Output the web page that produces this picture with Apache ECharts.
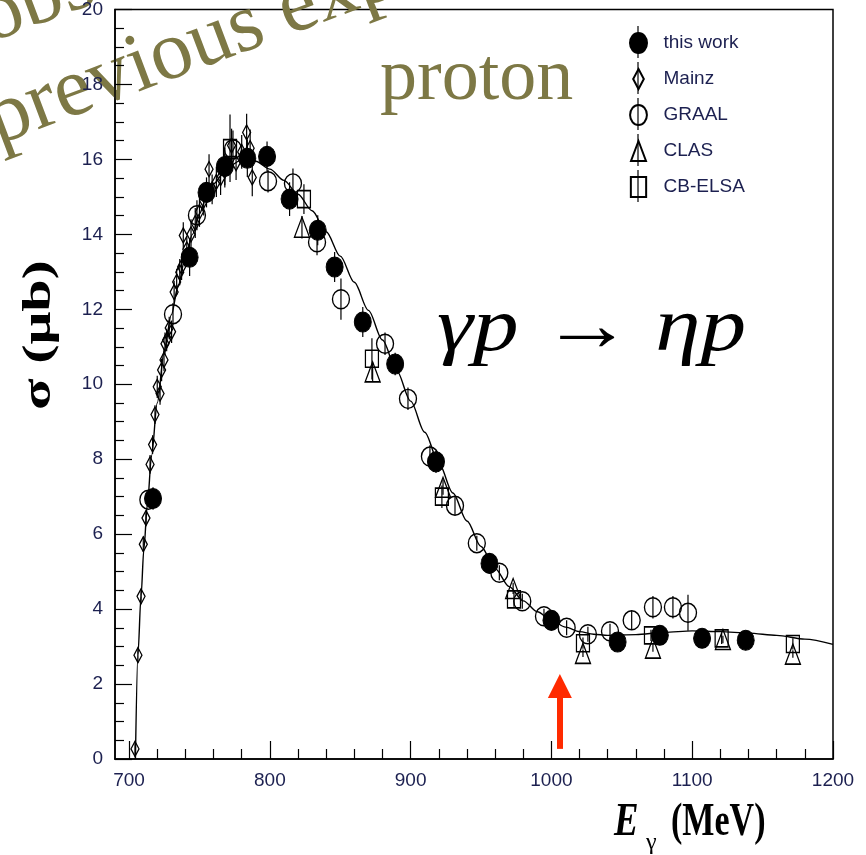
<!DOCTYPE html>
<html>
<head>
<meta charset="utf-8">
<script src="https://cdn.jsdelivr.net/npm/echarts@6/dist/echarts.min.js"></script>
<style>
  html, body { margin: 0; padding: 0; background: #fff; }
  #chart { width: 866px; height: 855px; }
</style>
</head>
<body>
<div id="chart"></div>
<script>
// axis ticks
const xMajorTicks = [700, 800, 900, 1000, 1100, 1200];
const xMinorStep = 20;

// fit curve
const curveX = [704.5, 706.3, 708.5, 710.5, 713, 716, 720, 725, 730, 735, 740, 745, 750, 755, 760, 770, 780, 790, 800, 810, 820, 830, 840, 850, 860, 870, 880, 890, 900, 910, 920, 930, 940, 950, 960, 970, 980, 990, 1000, 1010, 1020, 1030, 1040, 1060, 1080, 1100, 1120, 1140, 1160, 1180, 1200];
const curveY = [0, 2.8, 4.35, 5.6, 6.8, 8.1, 9.5, 10.9, 11.85, 12.65, 13.4, 14.0, 14.55, 15.0, 15.35, 15.8, 15.98, 15.95, 15.74, 15.44, 15.07, 14.63, 14.07, 13.42, 12.72, 11.97, 11.18, 10.37, 9.55, 8.72, 7.9, 7.1, 6.35, 5.67, 5.08, 4.6, 4.22, 3.93, 3.7, 3.52, 3.4, 3.33, 3.3, 3.32, 3.38, 3.42, 3.4, 3.36, 3.3, 3.2, 3.06];

// this work
const thisWorkX = [717, 743, 755, 768, 784, 798, 814, 834, 846, 866, 889, 918, 956, 1000, 1047, 1077, 1107, 1138];
const thisWorkY = [6.95, 13.39, 15.12, 15.81, 16.03, 16.08, 14.94, 14.11, 13.13, 11.66, 10.54, 7.93, 5.22, 3.70, 3.12, 3.30, 3.22, 3.17];
const thisWorkErr = [0.3, 0.5, 0.4, 0.5, 0.5, 0.4, 0.45, 0.4, 0.4, 0.4, 0.3, 0.3, 0.2, 0.2, 0.15, 0.2, 0.25, 0.2];

// Mainz
const mainzX = [704.2, 706.3, 708.5, 710.1, 712, 714.9, 716.7, 718.4, 720, 722, 723.1, 724.8, 725.5, 726.7, 728.5, 730.2, 732, 733.8, 736, 737.3, 738.5, 741, 744, 747, 750, 753, 756.8, 759, 762, 765, 768, 772.8, 776, 780, 783.5, 786, 787.5];
const mainzY = [0.27, 2.77, 4.34, 5.73, 6.43, 7.86, 8.39, 9.19, 9.93, 9.75, 10.38, 10.65, 11.08, 11.18, 11.5, 11.4, 12.46, 12.73, 12.99, 13.13, 13.97, 13.6, 14.0, 14.3, 14.6, 14.9, 15.74, 15.2, 15.4, 15.5, 15.7, 16.37, 15.9, 16.2, 16.72, 16.3, 15.52];
const mainzErr = [0.2, 0.2, 0.2, 0.2, 0.2, 0.25, 0.25, 0.25, 0.3, 0.3, 0.3, 0.3, 0.3, 0.3, 0.3, 0.3, 0.3, 0.35, 0.35, 0.35, 0.35, 0.35, 0.4, 0.4, 0.4, 0.4, 0.4, 0.4, 0.4, 0.45, 0.45, 0.45, 0.45, 0.45, 0.5, 0.5, 0.5];

// GRAAL
const graalX = [713.7, 731.2, 748.2, 773.8, 798.7, 816.4, 833.5, 850.5, 881.8, 898.1, 913.7, 931.5, 947, 963, 979.3, 994.7, 1010.8, 1025.9, 1041.6, 1057, 1072.1, 1086.3, 1097];
const graalY = [6.92, 11.87, 14.51, 16.27, 15.42, 15.36, 13.79, 12.27, 11.08, 9.61, 8.07, 6.76, 5.76, 4.97, 4.21, 3.81, 3.5, 3.33, 3.41, 3.7, 4.05, 4.05, 3.9];
const graalErr = [0.2, 0.3, 0.4, 0.5, 0.3, 0.4, 0.35, 0.55, 0.3, 0.3, 0.3, 0.25, 0.2, 0.2, 0.2, 0.2, 0.2, 0.2, 0.2, 0.25, 0.3, 0.3, 0.48];

// CLAS
const clasX = [822.8, 873, 923, 972.8, 1022.4, 1072.1, 1121.8, 1171.5];
const clasY = [14.19, 10.33, 7.25, 4.55, 2.82, 2.96, 3.19, 2.8];
const clasErr = [0.3, 0.25, 0.2, 0.15, 0.1, 0.1, 0.1, 0.1];

// CB-ELSA
const elsaX = [771.7, 824.2, 872.5, 922.2, 973.4, 1022.4, 1070.7, 1120.9, 1171.5];
const elsaY = [16.3, 14.94, 10.68, 7.0, 4.26, 3.09, 3.30, 3.22, 3.07];
const elsaErr = [0.9, 0.4, 0.55, 0.3, 0.2, 0.15, 0.15, 0.15, 0.15];

// threshold arrow
const arrowX = 1006;
const arrowY = [0.27, 1.95];

const xMinorTicks = [];
for (let v = 700; v <= 1200; v += xMinorStep) {
  if (xMajorTicks.indexOf(v) < 0) xMinorTicks.push(v);
}

const zip = (xs, ys) => xs.map((x, i) => [x, ys[i]]);
const errData = (xs, ys, es) => xs.map((x, i) => [x, ys[i] - es[i], ys[i] + es[i]]);

const navy = '#1c2050';
const olive = '#7d7845';
const serif = '"Liberation Serif", "Times New Roman", serif';
const sans = '"Liberation Sans", Arial, sans-serif';

const openStyle = { color: 'rgba(0,0,0,0)', borderColor: '#000', borderWidth: 1.4, opacity: 1 };

function errorSeries(data) {
  return {
    type: 'custom',
    silent: true,
    z: 3,
    data: data,
    encode: { x: 0, y: [1, 2] },
    renderItem: (params, api) => {
      const lo = api.coord([api.value(0), api.value(1)]);
      const hi = api.coord([api.value(0), api.value(2)]);
      return {
        type: 'line',
        shape: { x1: lo[0], y1: lo[1], x2: hi[0], y2: hi[1] },
        style: { stroke: '#000', lineWidth: 1.2 }
      };
    }
  };
}

const chart = echarts.init(document.getElementById('chart'));

const legendRows = [42, 78, 114, 150, 186];

chart.setOption({
  animation: false,
  backgroundColor: '#fff',
  grid: { left: 115, right: 33, top: 7, bottom: 96, show: true, borderColor: '#000', borderWidth: 1.5 },
  legend: {
    orient: 'vertical',
    left: 624,
    top: 27,
    itemWidth: 40,
    itemHeight: 20,
    itemGap: 14,
    textStyle: { fontFamily: sans, fontSize: 19, color: navy },
    data: [
      { name: 'this work', icon: 'path://M8.5,0A8.5,10,0,1,1,8.49,0Z' },
      { name: 'Mainz', icon: 'path://M4,0L8,7.5L4,15L0,7.5Z' },
      { name: 'GRAAL', icon: 'path://M8,0A8,9.5,0,1,1,7.99,0Z' },
      { name: 'CLAS', icon: 'path://M7.5,0L15,20L0,20Z' },
      { name: 'CB-ELSA', icon: 'path://M0,0H13V17H0Z' }
    ]
  },
  xAxis: [
    {
      type: 'value', min: 690, max: 1200, position: 'bottom',
      axisLine: { show: true, lineStyle: { color: '#000', width: 1.5 } },
      axisTick: { show: true, inside: true, length: 18, customValues: xMajorTicks, lineStyle: { color: '#000', width: 1.2 } },
      axisLabel: { customValues: xMajorTicks, formatter: v => String(v), fontFamily: sans, fontSize: 19, color: navy, margin: 12 },
      splitLine: { show: false }
    },
    {
      type: 'value', min: 690, max: 1200, position: 'bottom',
      axisLine: { show: false },
      axisTick: { show: true, inside: true, length: 10, customValues: xMinorTicks, lineStyle: { color: '#000', width: 1.2 } },
      axisLabel: { show: false },
      splitLine: { show: false }
    }
  ],
  yAxis: {
    type: 'value', min: 0, max: 20, interval: 2,
    axisLine: { show: true, lineStyle: { color: '#000', width: 1.5 } },
    axisTick: { show: true, inside: true, length: 17, lineStyle: { color: '#000', width: 1.2 } },
    minorTick: { show: true, splitNumber: 4, length: 9, lineStyle: { color: '#000', width: 1.2 } },
    axisLabel: { fontFamily: sans, fontSize: 19, color: navy, margin: 12 },
    splitLine: { show: false }
  },
  series: [
    {
      name: 'fit', type: 'line', z: 2,
      data: zip(curveX, curveY),
      showSymbol: false, symbol: 'none',
      smooth: 0.3, smoothMonotone: 'x',
      lineStyle: { color: '#000', width: 1.4 },
      markLine: {
        silent: true,
        symbol: ['none', 'triangle'],
        symbolSize: 24,
        label: { show: false },
        lineStyle: { color: '#ff2a00', width: 6, type: 'solid' },
        itemStyle: { color: '#ff2a00' },
        data: [[{ coord: [arrowX, arrowY[0]] }, { coord: [arrowX, arrowY[1]] }]]
      }
    },
    errorSeries(errData(thisWorkX, thisWorkY, thisWorkErr)),
    errorSeries(errData(mainzX, mainzY, mainzErr)),
    errorSeries(errData(graalX, graalY, graalErr)),
    errorSeries(errData(clasX, clasY, clasErr)),
    errorSeries(errData(elsaX, elsaY, elsaErr)),
    {
      name: 'Mainz', type: 'scatter', z: 4,
      symbol: 'diamond', symbolSize: [8, 15],
      itemStyle: openStyle,
      data: zip(mainzX, mainzY)
    },
    {
      name: 'GRAAL', type: 'scatter', z: 4,
      symbol: 'circle', symbolSize: [17, 19],
      itemStyle: openStyle,
      data: zip(graalX, graalY)
    },
    {
      name: 'CLAS', type: 'scatter', z: 4,
      symbol: 'triangle', symbolSize: [15, 20],
      itemStyle: openStyle,
      data: zip(clasX, clasY)
    },
    {
      name: 'CB-ELSA', type: 'scatter', z: 4,
      symbol: 'rect', symbolSize: [13, 17],
      itemStyle: openStyle,
      data: zip(elsaX, elsaY)
    },
    {
      name: 'this work', type: 'scatter', z: 5,
      symbol: 'circle', symbolSize: [17, 20],
      itemStyle: { color: '#000', borderColor: '#000', borderWidth: 1, opacity: 1 },
      data: zip(thisWorkX, thisWorkY)
    }
  ],
  graphic: [
    // error bars through legend markers
    ...legendRows.map(y => ({
      type: 'line', z: 1, silent: true,
      shape: { x1: 638, y1: y - 16, x2: 638, y2: y + 16 },
      style: { stroke: '#000', lineWidth: 1.2 }
    })),
    {
      type: 'text', x: 380, y: 80, silent: true,
      style: { text: 'proton', font: '74px ' + serif, fill: olive, verticalAlign: 'middle', align: 'left' }
    },
    {
      type: 'text', x: 437, y: 330, scaleX: 1.2, silent: true,
      style: { text: 'γp → ηp', font: 'italic 76px ' + serif, fill: '#000', verticalAlign: 'middle', align: 'left' }
    },
    {
      type: 'text', x: -10, y: 124, rotation: 0.36, silent: true,
      style: { text: 'previous experiments', font: '84px ' + serif, fill: olive, verticalAlign: 'middle', align: 'left' }
    },
    {
      type: 'text', x: -18, y: 22, rotation: 0.36, silent: true,
      style: { text: 'observed by', font: '84px ' + serif, fill: olive, verticalAlign: 'middle', align: 'left' }
    },
    {
      type: 'text', x: 40, y: 335, rotation: Math.PI / 2, scaleX: 1.45, silent: true,
      style: { text: 'σ (μb)', font: 'bold 40px ' + serif, fill: '#000', verticalAlign: 'middle', align: 'center' }
    },
    {
      type: 'text', x: 614, y: 823, scaleX: 0.8, silent: true,
      style: { text: 'E', font: 'italic bold 46px ' + serif, fill: '#000', verticalAlign: 'middle', align: 'left' }
    },
    {
      type: 'text', x: 646, y: 843, silent: true,
      style: { text: 'γ', font: '24px ' + serif, fill: '#000', verticalAlign: 'middle', align: 'left' }
    },
    {
      type: 'text', x: 671, y: 823, scaleX: 0.74, silent: true,
      style: { text: '(MeV)', font: 'bold 46px ' + serif, fill: '#000', verticalAlign: 'middle', align: 'left' }
    }
  ]
});
</script>
</body>
</html>
